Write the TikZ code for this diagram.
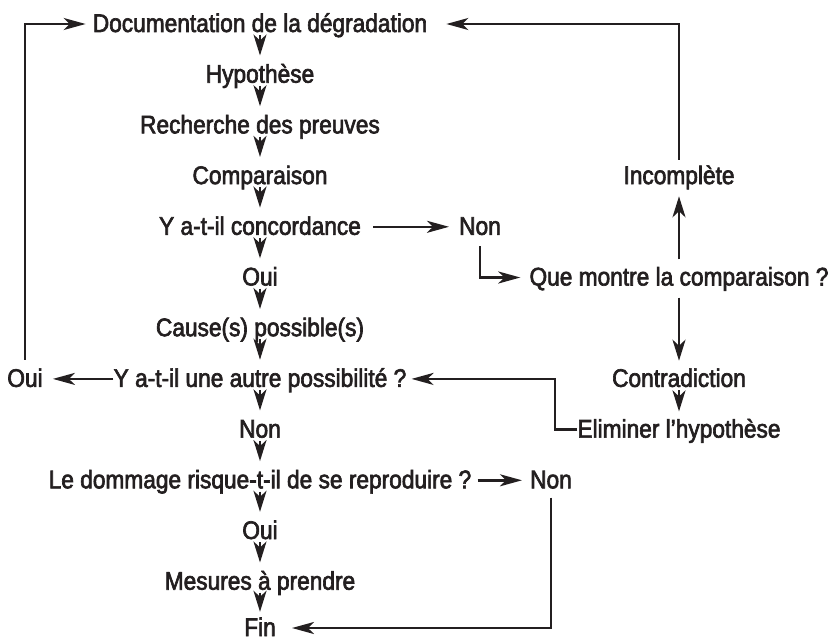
\documentclass[tikz,border=0pt]{standalone}
\usepackage{fontspec}
\setmainfont{Liberation Sans}[FakeStretch=0.89, FakeBold=2.5]
\usetikzlibrary{arrows.meta}
\definecolor{ink}{HTML}{231F20}
\begin{document}
\begin{tikzpicture}[x=1pt,y=-1pt,
  txt/.style={inner sep=0pt, text height=19pt, text depth=3pt, anchor=base, text=ink,
    font=\fontsize{25.5}{30}\selectfont},
  conn/.style={draw=ink, line width=2.4pt},
  vert/.style={conn, -{Stealth[length=21pt,width=13pt,inset=6pt]}, shorten >=8pt},
  harr/.style={conn, -{Stealth[length=22pt,width=12pt,inset=6pt]}},
  elbow/.style={conn, line join=miter}]
\useasboundingbox (0,0) rectangle (832,642);
% centre column
\node[txt] (doc)   at (260,32)    {Documentation de la dégradation};
\node[txt] (hyp)   at (260,82.7)  {Hypothèse};
\node[txt] (rech)  at (260,133.4) {Recherche des preuves};
\node[txt] (comp)  at (260,184.1) {Comparaison};
\node[txt] (conc)  at (260,234.8) {Y a-t-il concordance};
\node[txt] (oui1)  at (260,285.5) {Oui};
\node[txt] (cause) at (260,336.2) {Cause(s) possible(s)};
\node[txt] (autre) at (260,386.9) {Y a-t-il une autre possibilité ?};
\node[txt] (non2)  at (260,437.6) {Non};
\node[txt] (dom)   at (260,488.3) {Le dommage risque-t-il de se reproduire ?};
\node[txt] (oui3)  at (260,539)   {Oui};
\node[txt] (mes)   at (260,589.7) {Mesures à prendre};
\node[txt, text height=18pt, text depth=0pt] (fin) at (260,636) {Fin};
% side nodes
\node[txt] (ouiL)  at (25,386.9)  {Oui};
\node[txt] (non1)  at (480,234.8) {Non};
\node[txt] (nonB)  at (551,488.3) {Non};
% right column
\node[txt] (inc)    at (679,184.1) {Incomplète};
\node[txt] (que)    at (679,285.5) {Que montre la comparaison ?};
\node[txt] (contra) at (679,386.9) {Contradiction};
\node[txt] (elim)   at (679,437.6) {Eliminer l’hypothèse};
% vertical arrows centre
\draw[vert] (doc) -- (hyp);
\draw[vert] (hyp.south) -- (rech.north);
\draw[vert] (rech.south) -- (comp.north);
\draw[vert] (comp.south) -- (conc.north);
\draw[vert] (conc.south) -- (oui1.north);
\draw[vert] (oui1.south) -- (cause.north);
\draw[vert] (cause.south) -- (autre.north);
\draw[vert] (autre.south) -- (non2.north);
\draw[vert] (non2.south) -- (dom.north);
\draw[vert] (dom.south) -- (oui3.north);
\draw[vert] (oui3.south) -- (mes.north);
\draw[vert, shorten >=6pt] (mes.south) -- (fin.north);
% right column vertical arrows
\draw[vert, shorten <=7pt, shorten >=9pt] (que.north) -- (inc.south);
\draw[vert, shorten <=9pt, shorten >=7pt] (que.south) -- (contra.north);
\draw[vert, shorten >=7pt] (contra.south) -- (elim.north);
% horizontal / elbow connectors
\draw[harr, elbow, shorten <=8pt, shorten >=7pt] (ouiL.north) |- (doc.west);
\draw[harr, shorten >=10pt] (autre.west) -- (ouiL.east);
\draw[harr, elbow, shorten <=5pt, shorten >=19pt] (inc.north) |- (doc.east);
\draw[harr, shorten <=12pt, shorten >=10pt] (conc.east) -- (non1.west);
\draw[harr, elbow, shorten <=8pt, shorten >=9pt] (non1.south) |- (que.west);
\draw[harr, elbow, shorten >=5pt] (elim.west) -- ++(-22,0) |- (autre.east);
\draw[harr, shorten <=6pt, shorten >=8pt] (dom.east) -- (nonB.west);
\draw[harr, elbow, shorten <=6pt, shorten >=16pt] (nonB.south) |- ([yshift=-1pt]fin.east);
\end{tikzpicture}
\end{document}
